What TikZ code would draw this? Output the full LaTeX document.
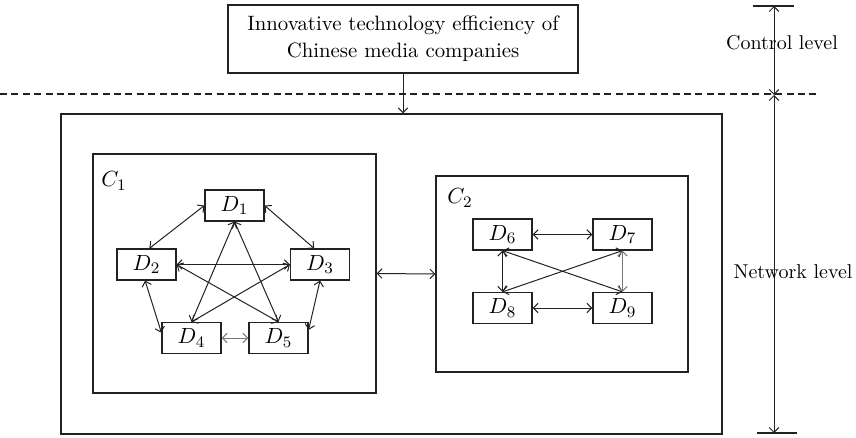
\documentclass[tikz,border=0pt]{standalone}
\usepackage{tikz}
\usetikzlibrary{arrows.meta,calc}
\definecolor{trait}{HTML}{222222}
\definecolor{gris}{HTML}{777777}

\begin{document}
\begin{tikzpicture}[x=0.5pt,y=-0.5pt,
  boite/.style={draw=trait,line width=0.6pt,inner sep=0pt},
  dbox/.style={boite,minimum width=29.5pt,minimum height=15.5pt,font=\fontsize{11}{12}\selectfont},
  lien/.style={trait,line width=0.5pt,{Straight Barb[length=2.4pt,width=4.8pt]}-{Straight Barb[length=2.4pt,width=4.8pt]}},
  fleche/.style={trait,line width=0.5pt,-{Straight Barb[length=2.4pt,width=4.8pt]}},
  etiq/.style={font=\fontsize{10}{12}\selectfont}]
  \useasboundingbox (0,0) rectangle (856,438);

  \node[boite,minimum width=175pt,minimum height=34pt,align=center,font=\fontsize{10.4}{13.5}\selectfont] (top) at (403,39)
    {Innovative technology efficiency of\\Chinese media companies};
  \node[boite,minimum width=330.5pt,minimum height=160pt] (outer) at (391.5,274) {};
  \node[boite,minimum width=141.5pt,minimum height=119.5pt] (c1) at (234.5,273.5) {};
  \node[boite,minimum width=126pt,minimum height=98pt] (c2) at (562,274) {};
  \node[font=\fontsize{11}{12}\selectfont] (c1lab) at (114,181) {$C_1$};
  \node[font=\fontsize{11}{12}\selectfont] (c2lab) at (460,198) {$C_2$};

  \draw[trait,line width=0.6pt,dash pattern=on 3.5pt off 2.2pt] (0,94) -- (818,94);
  \draw[fleche] (top.south) -- (top.south |- outer.north);

  \foreach \n/\px/\py in {1/234.5/205.5,2/146.5/264.5,3/320/264.5,4/191.5/338,5/278.5/338,
                          6/502.5/234.5,7/622.5/234.5,8/502.5/308,9/622.5/308}
    \node[dbox] (d\n) at (\px,\py) {$D_{\n}$};

  \foreach \a/\b in {d1.west/d2.80,d1.east/d3.110,d2.east/d3.west,d2.265/d4.170,d3.south/d5.15,
                     d1.south/d4.north,d1.south/d5.north,d2.east/d5.north,d3.west/d4.north,
                     d6.east/d7.west,d8.east/d9.west,d6.south/d8.north,d6.south/d9.north,d8.north/d7.south,
                     c1.east/c2.west}
    \draw[lien] (\a) -- (\b);
  \draw[lien,gris] (d4.east) -- (d5.west);
  \draw[lien,gris] (d7.south) -- (d9.north);

  \coordinate (ctop) at (774,6);
  \coordinate (cmid) at (774,95);
  \coordinate (nbot) at (774,433);
  \draw[trait,line width=0.6pt] ($(ctop)+(-21,0)$) -- ($(ctop)+(20,0)$);
  \draw[trait,line width=0.6pt] ($(nbot)+(-17,0)$) -- ($(nbot)+(23,0)$);
  \draw[lien] (ctop) -- (cmid);
  \draw[lien] (cmid) -- (nbot);
  \node[etiq] (ctrl) at (782,43) {Control level};
  \node[etiq] (netw) at (793,272) {Network level};
\end{tikzpicture}
\end{document}
